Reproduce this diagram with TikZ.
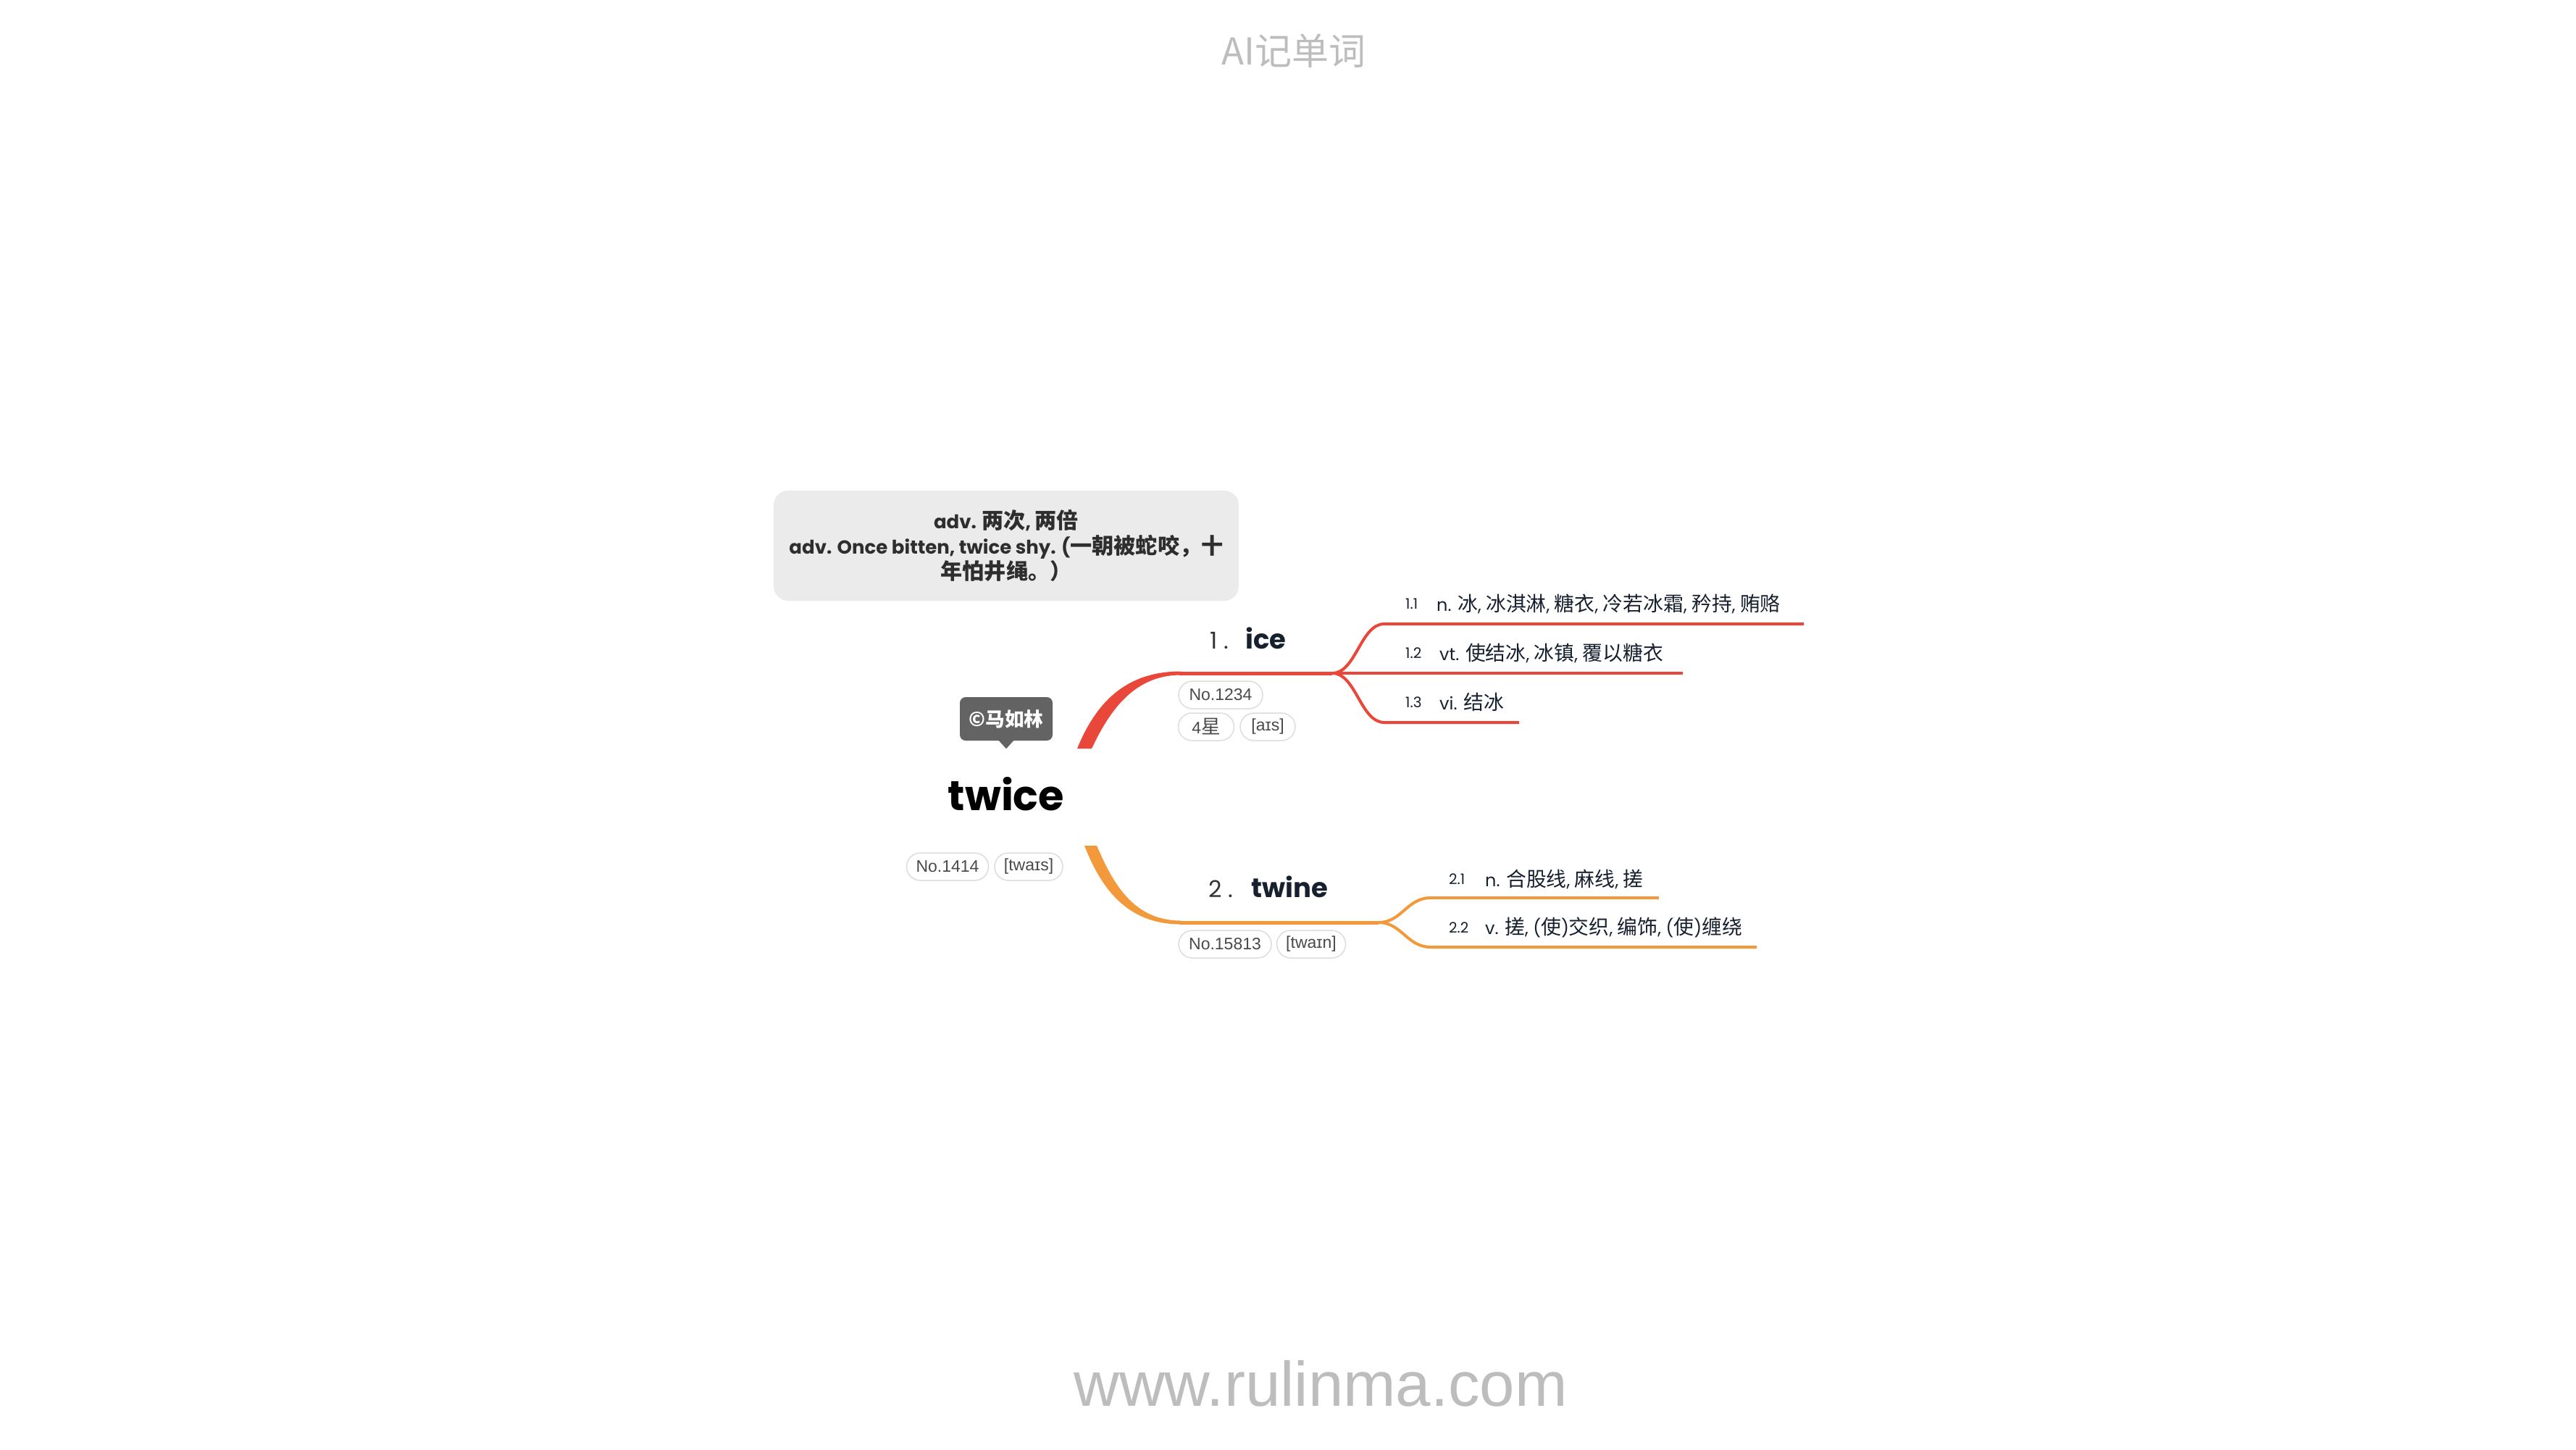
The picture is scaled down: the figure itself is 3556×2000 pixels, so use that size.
\documentclass[tikz,border=0pt]{standalone}
\usepackage{fontspec}
\setmainfont{Poppins}
\newfontfamily\pop{Poppins}
\newfontfamily\cjk{Noto Sans CJK SC}[Scale=1.16]
\newfontfamily\arial{Liberation Sans}
\newcommand\zh[1]{{\cjk #1}}
\definecolor{titlegray}{HTML}{BDBDBD}
\definecolor{defbg}{HTML}{EBEBEB}
\definecolor{deftext}{HTML}{2E2E2E}
\definecolor{callbg}{HTML}{636363}
\definecolor{redc}{HTML}{E8473A}
\definecolor{orangec}{HTML}{F2993B}
\definecolor{navy}{HTML}{16202E}
\definecolor{pillborder}{HTML}{DDDDDD}
\definecolor{pilltext}{HTML}{4A4A4A}
\tikzset{
  pill/.style={draw=pillborder, line width=1.5pt, fill=white, rounded corners=19pt,
    minimum height=38pt, inner xsep=8pt, inner ysep=0pt, text=pilltext,
    font=\arial\fontsize{23}{23}\selectfont},
  subtxt/.style={anchor=west, text=navy, inner sep=0pt, font=\pop\fontsize{24}{24}\selectfont},
  numtxt/.style={anchor=west, text=navy, inner sep=0pt, font=\pop\fontsize{20}{20}\selectfont},
  labnum/.style={anchor=base west, inner sep=0pt, text=black!80, font=\pop\fontsize{32}{32}\selectfont},
  labword/.style={anchor=base west, inner sep=0pt, text=navy, font=\pop\bfseries\fontsize{37}{37}\selectfont},
  defbox/.style={fill=defbg, rounded corners=20pt, minimum width=642pt, minimum height=152pt,
    align=center, text=deftext, inner sep=0pt, font=\pop\bfseries\fontsize{26}{35}\selectfont},
  callbox/.style={fill=callbg, rounded corners=8pt, minimum width=128pt, minimum height=60pt,
    text=white, inner sep=0pt, font=\cjk\bfseries\fontsize{23}{23}\selectfont},
  redline/.style={draw=redc, line width=4pt},
  orline/.style={draw=orangec, line width=4pt},
}
\begin{document}
\begin{tikzpicture}[x=1pt,y=-1pt]
\fill[white] (0,0) rectangle (3556,2000);
\useasboundingbox (0,0) rectangle (3556,2000);

% title and footer
\node[font=\cjk\fontsize{44}{44}\selectfont, text=titlegray] (title) at (1786,70) {AI记单词};
\node[anchor=base, font=\arial\fontsize{87}{87}\selectfont, text=titlegray] (site) at (1823,1940) {www.rulinma.com};

% definition box
\node[defbox] (def) at (1389,753) {adv. \zh{两次}, \zh{两倍}\\
adv. Once bitten, twice shy. (\zh{一朝被蛇咬，十}\\
\zh{年怕井绳。）}};

% copyright callout
\node[callbox] (copy) at (1389,992) {©马如林};
\fill[callbg] ([xshift=-11pt,yshift=1pt]copy.south) -- ([yshift=-11pt]copy.south) -- ([xshift=11pt,yshift=1pt]copy.south) -- cycle;

% central word
\node[anchor=base, inner sep=0pt, text=black, font=\pop\bfseries\fontsize{57.5}{57.5}\selectfont] (twice) at (1389,1118) {twice};
\node[pill, minimum width=113pt] (twno) at (1308,1196) {No.1414};
\node[pill, minimum width=94pt] (twph) at (1420,1196) {[twaɪs]};

% coordinates of the branches
\coordinate (r0) at (1497,1033);
\coordinate (r1) at (1630,929);
\coordinate (rf) at (1839,929);
\coordinate (r11) at (1911,861);
\coordinate (r11e) at (2490,861);
\coordinate (r12e) at (2323,929);
\coordinate (r13) at (1911,997);
\coordinate (r13e) at (2097,997);
\coordinate (o0) at (1505,1167);
\coordinate (o1) at (1630,1273);
\coordinate (of) at (1903,1273);
\coordinate (o21) at (1975,1239);
\coordinate (o21e) at (2290,1239);
\coordinate (o22) at (1975,1307);
\coordinate (o22e) at (2425,1307);

% red branch (ice)
\fill[redc] (1487,1033) .. controls (1512,972) and (1552,926.5) .. (1630,926.5)
  -- (1630,931.5) .. controls (1566,931.5) and (1532,980) .. (1507,1033) -- cycle;
\draw[redc, line width=5pt] (1628,929) -- (rf);
\draw[redline] (rf) -- (r12e);
\draw[redline] (rf) .. controls (1872,929) and (1878,861) .. (r11) -- (r11e);
\draw[redline] (rf) .. controls (1872,929) and (1878,997) .. (r13) -- (r13e);

% orange branch (twine)
\fill[orangec] (1497,1167) .. controls (1520,1226) and (1556,1275.5) .. (1630,1275.5)
  -- (1630,1270.5) .. controls (1564,1270.5) and (1536,1218) .. (1514,1167) -- cycle;
\draw[orangec, line width=5pt] (1628,1273) -- (of);
\draw[orline] (of) .. controls (1935,1273) and (1942,1239) .. (o21) -- (o21e);
\draw[orline] (of) .. controls (1935,1273) and (1942,1307) .. (o22) -- (o22e);

% ice labels
\node[labnum] (n1) at (1670,895) {1 .};
\node[labword] (ice) at (1719,895) {ice};
\node[pill, minimum width=116pt] (iceno) at (1685,959) {No.1234};
\node[pill, minimum width=77pt] (icestar) at (1665,1003) {4\zh{星}};
\node[pill, minimum width=76pt] (iceph) at (1750,1003) {[aɪs]};

\node[numtxt] (n11) at (1940,833) {1.1};
\node[subtxt] (s11) at (1983,833) {n. \zh{冰}, \zh{冰淇淋}, \zh{糖衣}, \zh{冷若冰霜}, \zh{矜持}, \zh{贿赂}};
\node[numtxt] (n12) at (1940,901) {1.2};
\node[subtxt] (s12) at (1987,901) {vt. \zh{使结冰}, \zh{冰镇}, \zh{覆以糖衣}};
\node[numtxt] (n13) at (1940,969) {1.3};
\node[subtxt] (s13) at (1987,969) {vi. \zh{结冰}};

% twine labels
\node[labnum] (n2) at (1668,1238) {2 .};
\node[labword] (twine) at (1727,1238) {twine};
\node[pill, minimum width=128pt] (twineno) at (1691,1303) {No.15813};
\node[pill, minimum width=95pt] (twineph) at (1810,1303) {[twaɪn]};

\node[numtxt] (n21) at (2000,1213) {2.1};
\node[subtxt] (s21) at (2050,1213) {n. \zh{合股线}, \zh{麻线}, \zh{搓}};
\node[numtxt] (n22) at (2000,1280) {2.2};
\node[subtxt] (s22) at (2050,1280) {v. \zh{搓}, (\zh{使})\zh{交织}, \zh{编饰}, (\zh{使})\zh{缠绕}};
\end{tikzpicture}
\end{document}
